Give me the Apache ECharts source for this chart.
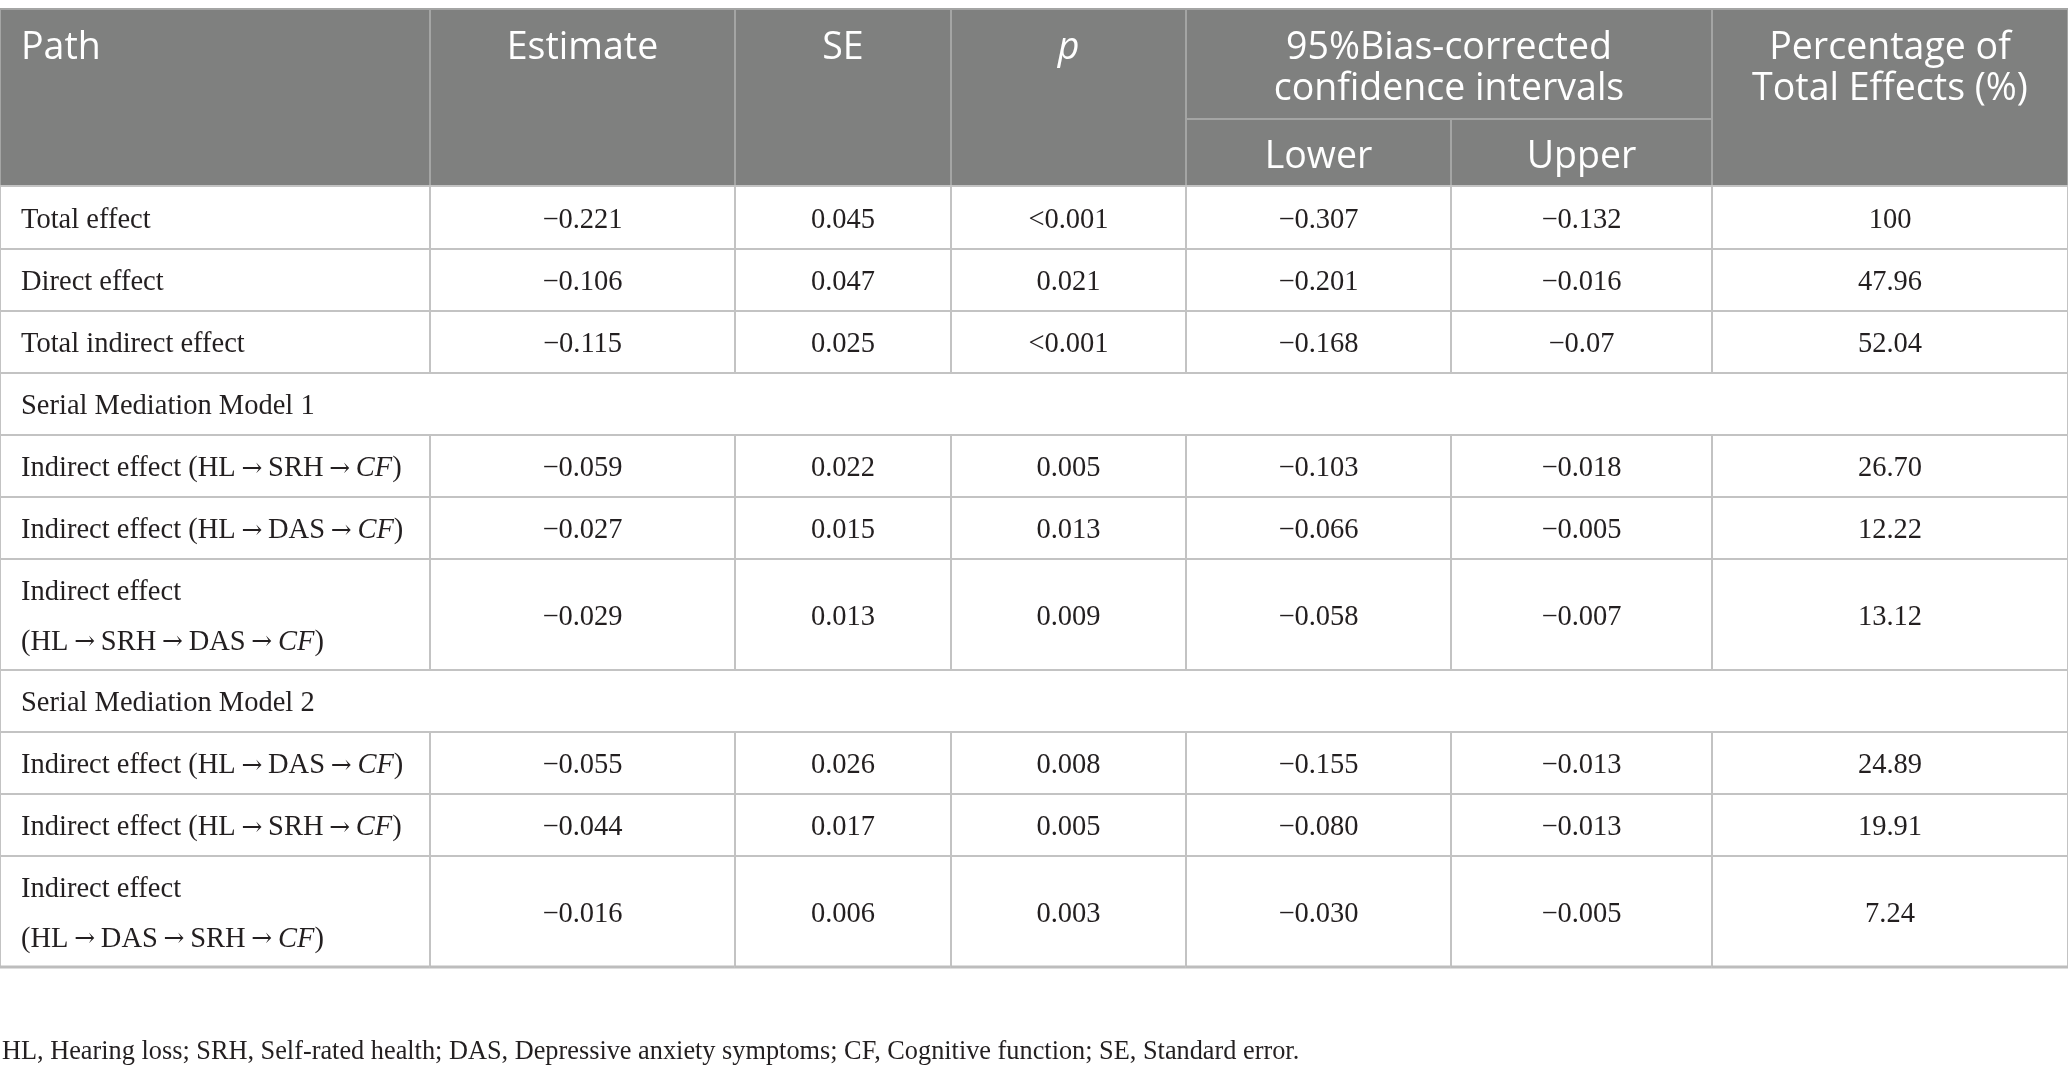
<!DOCTYPE html>
<html>
<head>
<meta charset="utf-8">
<script src="https://cdn.jsdelivr.net/npm/echarts@6/dist/echarts.min.js"></script>
<style>
  html, body { margin: 0; padding: 0; background: #fff; }
  #table { width: 2068px; height: 1073px; }
</style>
</head>
<body>
<div id="table"></div>
<script>
const arrow = '\u2009{a|\u2192}\u2009';

// header labels ({i|..} = italic)
const headerLabels = ['Path', 'Estimate', 'SE', '{i|p}',
  '95%Bias-corrected\nconfidence intervals', 'Lower', 'Upper',
  'Percentage of\nTotal Effects (%)'];

// table body, one array per column; null = section row
const paths = [
  'Total effect',
  'Direct effect',
  'Total indirect effect',
  'Serial Mediation Model 1',
  `Indirect effect (HL${arrow}SRH${arrow}{i|CF})`,
  `Indirect effect (HL${arrow}DAS${arrow}{i|CF})`,
  `Indirect effect\n(HL${arrow}SRH${arrow}DAS${arrow}{i|CF})`,
  'Serial Mediation Model 2',
  `Indirect effect (HL${arrow}DAS${arrow}{i|CF})`,
  `Indirect effect (HL${arrow}SRH${arrow}{i|CF})`,
  `Indirect effect\n(HL${arrow}DAS${arrow}SRH${arrow}{i|CF})`
];
const estimates = ['−0.221', '−0.106', '−0.115', null, '−0.059', '−0.027', '−0.029', null, '−0.055', '−0.044', '−0.016'];
const se = ['0.045', '0.047', '0.025', null, '0.022', '0.015', '0.013', null, '0.026', '0.017', '0.006'];
const pValues = ['<0.001', '0.021', '<0.001', null, '0.005', '0.013', '0.009', null, '0.008', '0.005', '0.003'];
const lower = ['−0.307', '−0.201', '−0.168', null, '−0.103', '−0.066', '−0.058', null, '−0.155', '−0.080', '−0.030'];
const upper = ['−0.132', '−0.016', '−0.07', null, '−0.018', '−0.005', '−0.007', null, '−0.013', '−0.013', '−0.005'];
const percent = ['100', '47.96', '52.04', null, '26.70', '12.22', '13.12', null, '24.89', '19.91', '7.24'];

const footnote = 'HL, Hearing loss; SRH, Self-rated health; DAS, Depressive anxiety symptoms; CF, Cognitive function; SE, Standard error.';

const columns = [paths, estimates, se, pValues, lower, upper, percent];

// layout (axis units = pixels)
const colEdges = [0, 430, 735, 951, 1186, 1451, 1712, 2068];
const headEdges = [9, 119, 186];
const rowEdges = [186, 249, 311, 373, 435, 497, 559, 670, 732, 794, 856, 967];
// header cell spans: [col from, col to, head row from, head row to]
const headerSpans = [[0, 1, 0, 2], [1, 2, 0, 2], [2, 3, 0, 2], [3, 4, 0, 2],
  [4, 6, 0, 1], [4, 5, 1, 2], [5, 6, 1, 2], [6, 7, 0, 2]];

const serif = '"Liberation Serif", "DejaVu Serif", serif';
const sans = '"Open Sans", "Noto Sans", sans-serif';
const ink = '#231f20';

function renderHeader(params, api) {
  const i = api.value(0);
  const s = headerSpans[i];
  const tl = api.coord([colEdges[s[0]], headEdges[s[2]]]);
  const br = api.coord([colEdges[s[1]], headEdges[s[3]]]);
  const left = i === 0;
  const top = s[2] === 0;
  const children = [];
  if (i === 0) {
    const a = api.coord([colEdges[0], headEdges[0]]);
    const b = api.coord([colEdges[colEdges.length - 1], headEdges[2]]);
    children.push({ type: 'rect', shape: { x: a[0], y: a[1], width: b[0] - a[0], height: b[1] - a[1] },
      style: { fill: '#7f807f' } });
  }
  children.push({
    type: 'rect',
    shape: { x: tl[0], y: tl[1], width: br[0] - tl[0], height: br[1] - tl[1] },
    style: { fill: 'transparent', stroke: '#a4a5a4', lineWidth: 2 }
  });
  children.push({
    type: 'text',
    style: {
      text: headerLabels[i],
      x: left ? tl[0] + 21 : (tl[0] + br[0]) / 2,
      y: top ? tl[1] + 19 : (tl[1] + br[1]) / 2 + 5,
      align: left ? 'left' : 'center',
      verticalAlign: top ? 'top' : 'middle',
      fontFamily: sans, fontSize: 37.5, lineHeight: 41, fill: '#ffffff',
      rich: { i: { fontFamily: sans, fontSize: 37.5, lineHeight: 41, fontStyle: 'italic', fill: '#ffffff' } }
    }
  });
  return { type: 'group', children };
}

function renderBody(params, api) {
  const r = api.value(0);
  const c = api.value(1);
  const full = estimates[r] == null;
  const tl = api.coord([colEdges[full ? 0 : c], rowEdges[r]]);
  const br = api.coord([colEdges[full ? colEdges.length - 1 : c + 1], rowEdges[r + 1]]);
  const left = c === 0;
  const children = [{
    type: 'rect',
    shape: { x: tl[0], y: tl[1], width: br[0] - tl[0], height: br[1] - tl[1] },
    style: { fill: 'transparent', stroke: '#c3c3c3', lineWidth: 2 }
  }, {
    type: 'text',
    style: {
      text: columns[c][r],
      x: left ? tl[0] + 21 : (tl[0] + br[0]) / 2,
      y: (tl[1] + br[1]) / 2 + 3,
      align: left ? 'left' : 'center',
      verticalAlign: 'middle',
      fontFamily: serif, fontSize: 28.5, lineHeight: 50, fill: ink,
      rich: {
        i: { fontFamily: serif, fontSize: 28.5, lineHeight: 50, fontStyle: 'italic', fill: ink },
        a: { fontFamily: '"DejaVu Serif", serif', fontSize: 25, lineHeight: 50, fill: ink }
      }
    }
  }];
  if (r === paths.length - 1) {
    children.push({ type: 'line', shape: { x1: tl[0], y1: br[1], x2: br[0], y2: br[1] },
      style: { stroke: '#bdbdbd', lineWidth: 3 } });
  }
  return { type: 'group', children };
}

function renderTable() {
  const chart = echarts.init(document.getElementById('table'));

  const headerData = headerLabels.map((_, i) => [i, 0]);
  const bodyData = [];
  paths.forEach((_, r) => {
    if (estimates[r] == null) {
      bodyData.push([r, 0]);
    } else {
      columns.forEach((_, c) => bodyData.push([r, c]));
    }
  });

  chart.setOption({
    animation: false,
    grid: { left: 0, right: 0, top: 0, bottom: 0 },
    xAxis: { type: 'value', min: 0, max: 2068, show: false },
    yAxis: { type: 'value', min: 0, max: 1073, inverse: true, show: false },
    graphic: [{
      type: 'text',
      left: 2,
      top: 1039,
      style: { text: footnote, fontFamily: serif, fontSize: 26.3, fill: ink }
    }],
    series: [
      { type: 'custom', silent: true, clip: false, data: headerData, renderItem: renderHeader },
      { type: 'custom', silent: true, clip: false, data: bodyData, renderItem: renderBody }
    ]
  });
}

renderTable();
</script>
</body>
</html>
